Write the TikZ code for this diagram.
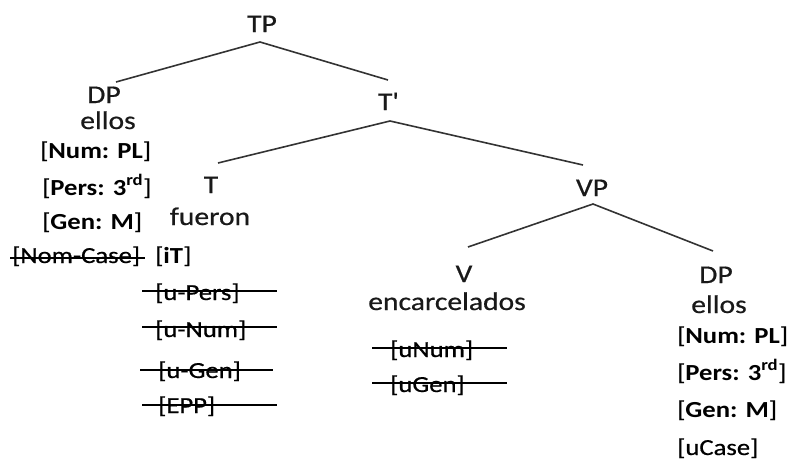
\documentclass[tikz,border=0pt]{standalone}
\usepackage{fontspec}
\setmainfont{Carlito}[FakeStretch=1.16, UprightFeatures={FakeBold=0.6}]
\begin{document}
\begin{tikzpicture}[x=1pt,y=-1pt,
  lab/.style={font=\fontsize{25.5}{28}\selectfont, inner sep=0pt, anchor=base, text=black!90},
  feat/.style={font=\fontsize{23}{26}\selectfont, inner sep=0pt, anchor=base west, text=black},
  branch/.style={draw=black!80, line width=1.6pt},
  strike/.style={draw=black, line width=1.8pt}]
\useasboundingbox (0,0) rectangle (788,463);

% labels
\node[lab] (TP) at (262,32) {TP};
\node[lab] (Tbar) at (388,110) {T\textquotesingle};
\node[lab] (DPl) at (104,103) {DP};
\node[lab] (ellosL) at (108,129) {ellos};
\node[lab] (T) at (211,193) {T};
\node[lab] (fueron) at (210,225) {fueron};
\node[lab] (VP) at (592,196) {VP};
\node[lab] (V) at (464,282) {V};
\node[lab] (encar) at (447,310) {encarcelados};
\node[lab] (DPr) at (716,283) {DP};
\node[lab] (ellosR) at (719,313) {ellos};

% features of left DP
\node[feat] (numL) at (40,158) {[\textbf{Num: PL}]};
\node[feat] (persL) at (42,195) {[\textbf{Pers: 3\textsuperscript{rd}}]};
\node[feat] (genL) at (42,229) {[\textbf{Gen: M}]};
\node[feat] (nomL) at (12,263) {[Nom-Case]};
% features of T
\node[feat] (iT) at (155,263) {[\textbf{iT}]};
\node[feat] (uPers) at (155,300) {[u-Pers]};
\node[feat] (uNum) at (155,337) {[u-Num]};
\node[feat] (uGen) at (158,378) {[u-Gen]};
\node[feat] (EPP) at (158,413) {[EPP]};
% features of V
\node[feat] (uNumV) at (390,357) {[uNum]};
\node[feat] (uGenV) at (390,392) {[uGen]};
% features of right DP
\node[feat] (numR) at (677,343) {[\textbf{Num: PL}]};
\node[feat] (persR) at (677,380) {[\textbf{Pers: 3\textsuperscript{rd}}]};
\node[feat] (genR) at (677,417) {[\textbf{Gen: M}]};
\node[feat] (uCase) at (677,455) {[uCase]};

% branch points
\coordinate (TPa) at (260,42);
\coordinate (DPlt) at (116,82);
\coordinate (Tbart) at (388,80);
\coordinate (Tbara) at (390,121);
\coordinate (Tt) at (218,163);
\coordinate (VPt) at (583,165);
\coordinate (VPa) at (593,204);
\coordinate (Vt) at (468,247);
\coordinate (DPrt) at (713,251);

\draw[branch] (DPlt) -- (TPa) -- (Tbart);
\draw[branch] (Tt) -- (Tbara) -- (VPt);
\draw[branch] (Vt) -- (VPa) -- (DPrt);

% strike-through lines
\draw[strike] (10,258) -- (145,258);
\draw[strike] (142,291) -- (277,291);
\draw[strike] (142,327) -- (277,327);
\draw[strike] (140,370) -- (273,370);
\draw[strike] (142,405) -- (277,405);
\draw[strike] (372,348) -- (507,348);
\draw[strike] (372,383) -- (507,383);
\end{tikzpicture}
\end{document}
